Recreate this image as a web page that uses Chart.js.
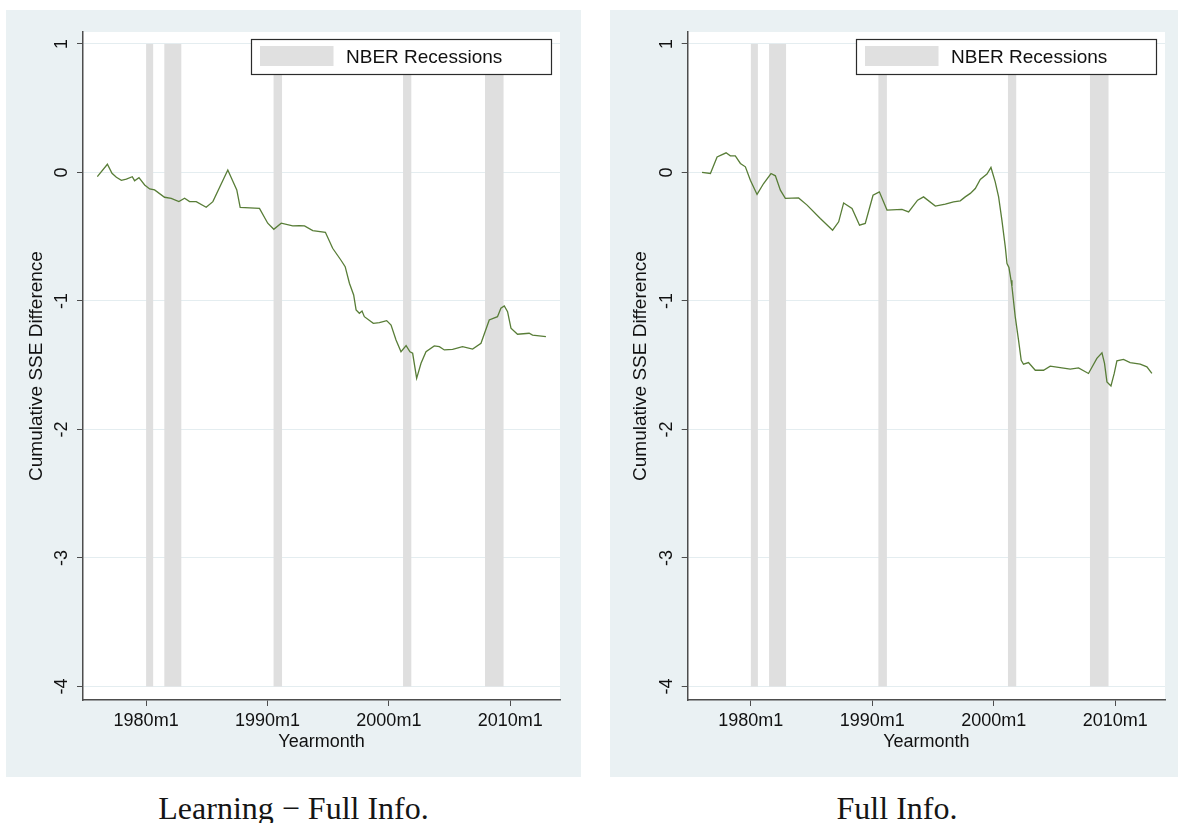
<!DOCTYPE html>
<html>
<head>
<meta charset="utf-8">
<script src="https://cdn.jsdelivr.net/npm/chart.js@4.4.0/dist/chart.umd.min.js"></script>
<style>
  body { margin: 0; background: #fff; width: 1178px; height: 823px; position: relative; overflow: hidden; }
  .panel { position: absolute; top: 10px; height: 767px; background: #eaf1f3; }
  #panelL { left: 6px; width: 575px; }
  #panelR { left: 610px; width: 568px; }
  .panel canvas { display: block; }
  .caption { position: absolute; top: 790px; height: 36px; line-height: 36px; text-align: center;
             font-family: "Liberation Serif", "DejaVu Serif", serif; font-size: 32px; color: #151515; }
</style>
</head>
<body>
<div class="panel" id="panelL"><canvas id="chartL" width="575" height="767"></canvas></div>
<div class="panel" id="panelR"><canvas id="chartR" width="568" height="767"></canvas></div>
<div class="caption" style="left:6px; width:575px;">Learning − Full Info.</div>
<div class="caption" style="left:610px; width:574px;">Full Info.</div>

<script>
// time is in decimal years (1980m1 = 1980.0)
const xTicks = [1980, 1990, 2000, 2010];
const yTicks = [-4, -3, -2, -1, 0, 1];
const legendLabel = 'NBER Recessions';

// NBER recession spans
const recStart = [1980.0, 1981.5, 1990.5, 2001.17, 2007.92];
const recEnd   = [1980.58, 1982.9, 1991.2, 2001.85, 2009.45];

// Learning - Full Info.
const learnT = [1975.98, 1976.81, 1977.19, 1977.55, 1977.96, 1978.37, 1978.86, 1979.05, 1979.41, 1979.88,
  1980.29, 1980.70, 1981.52, 1982.07, 1982.70, 1983.17, 1983.58, 1984.13, 1984.95, 1985.50,
  1986.73, 1987.47, 1987.75, 1989.34, 1990.02, 1990.52, 1991.13, 1992.08, 1992.63, 1993.05,
  1993.73, 1994.77, 1995.37, 1996.07, 1996.40, 1996.75, 1997.10, 1997.30, 1997.57, 1997.79,
  1997.98, 1998.72, 1999.22, 1999.82, 2000.18, 2000.59, 2001.00, 2001.42, 2001.74, 2001.96,
  2002.29, 2002.65, 2003.06, 2003.74, 2004.16, 2004.57, 2005.25, 2006.07, 2006.90, 2007.59,
  2008.27, 2008.95, 2009.23, 2009.51, 2009.78, 2010.06, 2010.60, 2011.56, 2011.84, 2012.94];
const learnY = [-0.033, 0.064, -0.006, -0.037, -0.061, -0.051, -0.033, -0.064, -0.040, -0.097,
  -0.128, -0.136, -0.193, -0.201, -0.227, -0.201, -0.227, -0.227, -0.271, -0.227,
  0.019, -0.136, -0.271, -0.279, -0.395, -0.442, -0.395, -0.416, -0.414, -0.416,
  -0.453, -0.466, -0.590, -0.685, -0.733, -0.862, -0.953, -1.070, -1.096, -1.078,
  -1.122, -1.174, -1.169, -1.153, -1.187, -1.304, -1.395, -1.348, -1.395, -1.407,
  -1.602, -1.485, -1.395, -1.350, -1.356, -1.381, -1.376, -1.356, -1.374, -1.329,
  -1.148, -1.122, -1.057, -1.039, -1.083, -1.212, -1.259, -1.251, -1.265, -1.278];

// Full Info.
const fullT = [1975.98, 1976.67, 1977.22, 1977.55, 1977.96, 1978.31, 1978.72, 1979.14, 1979.55, 1979.96,
  1980.51, 1981.05, 1981.66, 1982.02, 1982.43, 1982.84, 1983.93, 1984.63, 1985.72, 1986.73,
  1987.23, 1987.64, 1988.33, 1988.95, 1989.42, 1990.06, 1990.58, 1991.21, 1992.44, 1992.99,
  1993.73, 1994.22, 1995.19, 1996.01, 1996.69, 1997.24, 1997.65, 1998.07, 1998.48, 1998.89,
  1999.44, 1999.77, 2000.12, 2000.40, 2000.67, 2000.95, 2001.09, 2001.25, 2001.42, 2001.50,
  2001.77, 2002.04, 2002.26, 2002.45, 2002.86, 2003.42, 2004.10, 2004.65, 2005.47, 2006.30,
  2006.98, 2007.80, 2008.49, 2008.91, 2009.12, 2009.32, 2009.65, 2009.92, 2010.14, 2010.68,
  2011.23, 2012.06, 2012.61, 2013.02];
const fullY = [0.000, -0.008, 0.121, 0.135, 0.153, 0.129, 0.129, 0.070, 0.044, -0.060,
  -0.171, -0.086, -0.008, -0.026, -0.138, -0.202, -0.198, -0.254, -0.358, -0.449,
  -0.384, -0.237, -0.280, -0.410, -0.397, -0.177, -0.151, -0.293, -0.288, -0.307,
  -0.216, -0.190, -0.262, -0.247, -0.229, -0.221, -0.190, -0.163, -0.125, -0.054,
  -0.013, 0.039, -0.073, -0.190, -0.371, -0.579, -0.708, -0.740, -0.838, -0.890,
  -1.124, -1.305, -1.461, -1.492, -1.479, -1.539, -1.539, -1.507, -1.518, -1.531,
  -1.521, -1.564, -1.447, -1.404, -1.486, -1.630, -1.661, -1.564, -1.466, -1.455,
  -1.479, -1.492, -1.513, -1.564];

const sans = '"Liberation Sans", Arial, sans-serif';
const axisColor = '#4d4d4d';

// white plot region on the grey-blue graph region
const plotBg = {
  id: 'plotBg',
  beforeDraw(chart) {
    const {ctx, chartArea: a} = chart;
    ctx.save();
    ctx.fillStyle = '#ffffff';
    ctx.fillRect(a.left, a.top, a.right - a.left, a.bottom - a.top);
    ctx.restore();
  }
};

// shaded recession bars from 1 down to -4
const recessions = {
  id: 'recessions',
  beforeDatasetsDraw(chart) {
    const {ctx, scales: {x, y}} = chart;
    const top = y.getPixelForValue(1);
    const bot = y.getPixelForValue(-4);
    ctx.save();
    ctx.fillStyle = '#dfdfdf';
    recStart.forEach((s, i) => {
      const x0 = x.getPixelForValue(s);
      const x1 = x.getPixelForValue(recEnd[i]);
      ctx.fillRect(x0, top, x1 - x0, bot - top);
    });
    ctx.restore();
  }
};

// legend box in the top right corner
const recLegend = {
  id: 'recLegend',
  afterDatasetsDraw(chart) {
    const {ctx, chartArea: a} = chart;
    const w = 301, h = 36;
    const bx = Math.round(a.right - 8.5 - w), by = Math.round(a.top + 7);
    ctx.save();
    ctx.fillStyle = '#ffffff';
    ctx.fillRect(bx, by, w, h);
    ctx.strokeStyle = '#2b2b2b';
    ctx.lineWidth = 1.2;
    ctx.strokeRect(bx + 0.5, by + 0.5, w - 1, h - 1);
    ctx.fillStyle = '#e0e0e0';
    ctx.fillRect(bx + 9, by + 7, 73.5, 20);
    ctx.fillStyle = '#111';
    ctx.font = '19px ' + sans;
    ctx.textBaseline = 'middle';
    ctx.fillText(legendLabel, bx + 95, by + h / 2 + 1);
    ctx.restore();
  }
};

function makeChart(id, T, Y, axisWidth, rightPad) {
  return new Chart(document.getElementById(id), {
    type: 'line',
    data: {
      datasets: [{
        data: T.map((t, i) => ({x: t, y: Y[i]})),
        borderColor: '#587d37',
        borderWidth: 1.3,
        pointRadius: 0,
        tension: 0
      }]
    },
    options: {
      responsive: false,
      animation: false,
      layout: { padding: { left: 0, right: rightPad, top: 22, bottom: 0 } },
      plugins: { legend: { display: false }, tooltip: { enabled: false } },
      scales: {
        x: {
          type: 'linear',
          min: 1974.8,
          max: 2014.1,
          afterBuildTicks: s => { s.ticks = xTicks.map(v => ({value: v})); },
          afterFit: s => { s.height = 77; },
          grid: { drawOnChartArea: false, tickLength: 6, tickColor: axisColor, tickWidth: 1 },
          border: { color: axisColor, width: 1.5 },
          ticks: { callback: v => v + 'm1', font: { family: sans, size: 18 }, color: '#111', padding: 4, maxRotation: 0 },
          title: { display: true, text: 'Yearmonth', font: { family: sans, size: 18 }, color: '#111', padding: { top: 0, bottom: 24 } }
        },
        y: {
          min: -4.105,
          max: 1.093,
          afterBuildTicks: s => { s.ticks = yTicks.map(v => ({value: v})); },
          afterFit: s => { s.width = axisWidth; },
          grid: { color: '#e4edf0', tickLength: 6, tickColor: axisColor, tickWidth: 1 },
          border: { color: axisColor, width: 1.5 },
          ticks: { callback: v => String(v), minRotation: 90, maxRotation: 90, crossAlign: 'center',
                   padding: 7, font: { family: sans, size: 18 }, color: '#111' },
          title: { display: true, text: 'Cumulative SSE Difference', font: { family: sans, size: 19 }, color: '#111',
                   padding: { top: 19.5, bottom: 0 } }
        }
      }
    },
    plugins: [plotBg, recessions, recLegend]
  });
}

makeChart('chartL', learnT, learnY, 77, 21);
makeChart('chartR', fullT, fullY, 77.7, 13);
</script>
</body>
</html>
